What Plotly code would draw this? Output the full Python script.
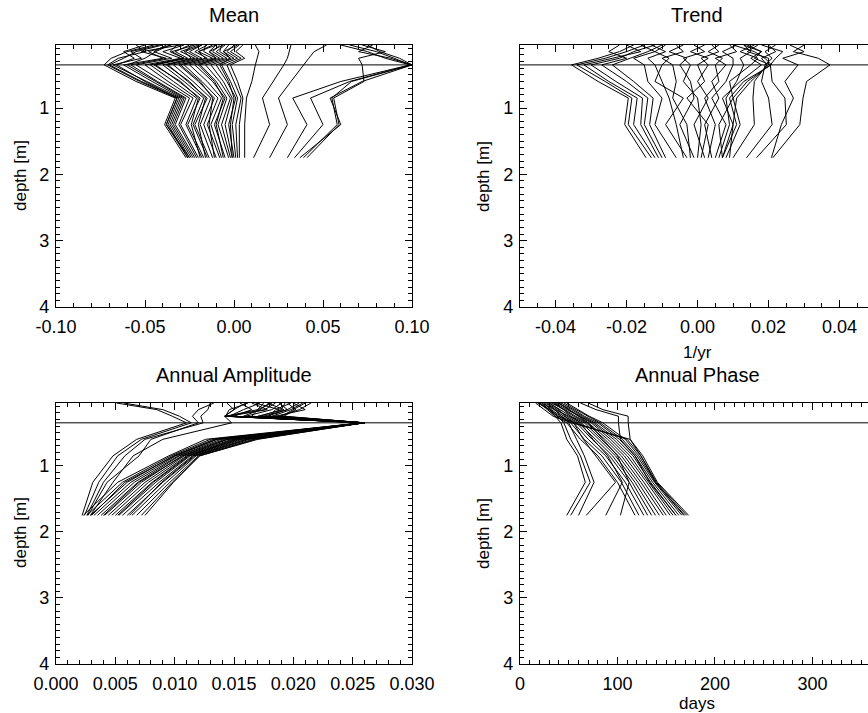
import plotly.graph_objects as go

# ---------------- data ----------------
depth = [0.05, 0.15, 0.25, 0.35, 0.6, 0.85, 1.25, 1.75]
ref_depth = 0.35

mean_profiles = [
    [-0.045, -0.060, -0.069, -0.073, -0.055, -0.033, -0.039, -0.027],
    [-0.055, -0.050, -0.065, -0.071, -0.053, -0.032, -0.038, -0.026],
    [-0.040, -0.055, -0.062, -0.070, -0.052, -0.031, -0.037, -0.026],
    [-0.042, -0.058, -0.052, -0.068, -0.049, -0.030, -0.036, -0.025],
    [-0.050, -0.062, -0.056, -0.066, -0.050, -0.032, -0.038, -0.025],
    [-0.035, -0.048, -0.040, -0.062, -0.046, -0.029, -0.035, -0.024],
    [-0.036, -0.044, -0.050, -0.060, -0.044, -0.028, -0.034, -0.023],
    [-0.030, -0.052, -0.038, -0.058, -0.043, -0.027, -0.033, -0.022],
    [-0.038, -0.045, -0.035, -0.055, -0.040, -0.025, -0.031, -0.021],
    [-0.028, -0.040, -0.030, -0.050, -0.037, -0.023, -0.030, -0.020],
    [-0.032, -0.036, -0.028, -0.047, -0.034, -0.021, -0.027, -0.018],
    [-0.022, -0.035, -0.028, -0.045, -0.030, -0.020, -0.024, -0.019],
    [-0.025, -0.033, -0.026, -0.044, -0.031, -0.019, -0.026, -0.017],
    [-0.020, -0.030, -0.022, -0.040, -0.028, -0.017, -0.023, -0.015],
    [-0.018, -0.028, -0.024, -0.038, -0.025, -0.016, -0.020, -0.016],
    [-0.024, -0.027, -0.020, -0.037, -0.026, -0.015, -0.022, -0.014],
    [-0.018, -0.025, -0.018, -0.034, -0.023, -0.013, -0.019, -0.012],
    [-0.015, -0.022, -0.015, -0.031, -0.020, -0.011, -0.017, -0.010],
    [-0.010, -0.020, -0.016, -0.030, -0.019, -0.012, -0.014, -0.011],
    [-0.012, -0.020, -0.012, -0.028, -0.018, -0.009, -0.015, -0.008],
    [-0.016, -0.017, -0.010, -0.025, -0.015, -0.007, -0.013, -0.007],
    [-0.010, -0.014, -0.008, -0.022, -0.012, -0.005, -0.011, -0.005],
    [-0.006, -0.014, -0.010, -0.020, -0.011, -0.006, -0.010, -0.006],
    [-0.008, -0.012, -0.006, -0.019, -0.010, -0.004, -0.009, -0.003],
    [-0.005, -0.010, -0.004, -0.016, -0.008, -0.002, -0.007, -0.002],
    [-0.007, -0.008, -0.002, -0.013, -0.006, -0.001, -0.005, -0.001],
    [-0.003, -0.006, 0.000, -0.010, -0.004, 0.001, -0.003, 0.000],
    [0.002, -0.006, -0.002, -0.008, -0.003, 0.000, -0.002, -0.001],
    [0.000, -0.004, 0.002, -0.007, -0.002, 0.002, -0.001, 0.001],
    [0.003, -0.002, 0.004, -0.004, 0.000, 0.004, 0.001, 0.002],
    [0.005, 0.001, 0.006, -0.002, 0.002, 0.005, 0.003, 0.003],
    [0.012, 0.014, 0.013, 0.012, 0.010, 0.007, 0.006, 0.006],
    [0.032, 0.031, 0.030, 0.028, 0.022, 0.016, 0.020, 0.011],
    [0.052, 0.045, 0.042, 0.039, 0.032, 0.025, 0.030, 0.020],
    [0.060, 0.075, 0.085, 0.099, 0.060, 0.033, 0.041, 0.030],
    [0.065, 0.080, 0.090, 0.099, 0.065, 0.043, 0.050, 0.034],
    [0.075, 0.082, 0.093, 0.100, 0.072, 0.054, 0.060, 0.037],
    [0.072, 0.085, 0.070, 0.072, 0.073, 0.056, 0.059, 0.041],
    [0.078, 0.070, 0.088, 0.100, 0.066, 0.055, 0.058, 0.039],
]

trend_profiles = [
    [-0.018, -0.022, -0.028, -0.0355, -0.028, -0.0195, -0.0205, -0.0145],
    [-0.015, -0.020, -0.026, -0.034, -0.026, -0.0185, -0.0195, -0.0130],
    [-0.020, -0.016, -0.024, -0.032, -0.025, -0.0170, -0.0180, -0.0120],
    [-0.012, -0.018, -0.022, -0.030, -0.023, -0.0155, -0.0160, -0.0110],
    [-0.022, -0.025, -0.020, -0.027, -0.020, -0.0140, -0.0150, -0.0100],
    [-0.010, -0.014, -0.019, -0.024, -0.018, -0.0125, -0.0135, -0.0090],
    [-0.016, -0.012, -0.018, -0.015, -0.014, -0.010, -0.012, -0.006],
    [-0.013, -0.009, -0.014, -0.012, -0.010, -0.008, -0.006, -0.004],
    [-0.009, -0.012, -0.008, -0.010, -0.012, -0.004, -0.009, -0.003],
    [-0.006, -0.004, -0.010, -0.007, -0.006, -0.007, -0.003, -0.002],
    [-0.004, -0.008, -0.003, -0.005, -0.002, -0.001, -0.005, -0.001],
    [-0.001, 0.002, -0.004, -0.002, -0.004, 0.000, 0.001, 0.000],
    [0.002, -0.002, 0.003, 0.000, 0.002, -0.003, 0.003, 0.001],
    [0.004, 0.006, 0.001, 0.003, 0.000, 0.003, -0.001, 0.002],
    [0.006, 0.003, 0.007, 0.005, 0.006, 0.002, 0.005, 0.003],
    [0.009, 0.011, 0.005, 0.008, 0.004, 0.006, 0.002, 0.004],
    [0.011, 0.007, 0.010, 0.010, 0.008, 0.004, 0.008, 0.005],
    [0.013, 0.015, 0.012, 0.013, 0.011, 0.008, 0.009, 0.006],
    [0.016, 0.012, 0.017, 0.015, 0.009, 0.010, 0.006, 0.007],
    [0.014, 0.018, 0.015, 0.018, 0.012, 0.007, 0.010, 0.007],
    [0.010, 0.016, 0.019, 0.0208, 0.013, 0.009, 0.011, 0.007],
    [0.013, 0.018, 0.016, 0.0205, 0.014, 0.010, 0.012, 0.008],
    [0.017, 0.014, 0.020, 0.020, 0.015, 0.011, 0.010, 0.009],
    [0.020, 0.022, 0.018, 0.0195, 0.016, 0.0156, 0.016, 0.010],
    [0.022, 0.019, 0.021, 0.019, 0.018, 0.020, 0.021, 0.0138],
    [0.018, 0.024, 0.022, 0.0205, 0.021, 0.0246, 0.025, 0.0166],
    [0.026, 0.030, 0.024, 0.0283, 0.0246, 0.027, 0.0236, 0.0208],
    [0.030, 0.027, 0.034, 0.0373, 0.0307, 0.0297, 0.0288, 0.0212],
]

amp_profiles = [
    [0.0160, 0.0150, 0.0142, 0.0258, 0.0126, 0.0095, 0.0052, 0.0023],
    [0.0175, 0.0170, 0.0143, 0.0259, 0.0130, 0.0097, 0.0056, 0.0026],
    [0.0190, 0.0182, 0.0160, 0.0260, 0.0133, 0.0099, 0.0060, 0.0029],
    [0.0205, 0.0195, 0.0175, 0.0259, 0.0136, 0.0101, 0.0063, 0.0032],
    [0.0168, 0.0188, 0.0185, 0.0260, 0.0139, 0.0103, 0.0066, 0.0035],
    [0.0185, 0.0176, 0.0144, 0.0258, 0.0142, 0.0104, 0.0069, 0.0038],
    [0.0210, 0.0200, 0.0190, 0.0260, 0.0145, 0.0106, 0.0072, 0.0041],
    [0.0155, 0.0165, 0.0150, 0.0259, 0.0148, 0.0108, 0.0075, 0.0044],
    [0.0178, 0.0192, 0.0170, 0.0260, 0.0150, 0.0110, 0.0078, 0.0047],
    [0.0198, 0.0185, 0.0180, 0.0258, 0.0152, 0.0111, 0.0081, 0.0050],
    [0.0215, 0.0205, 0.0188, 0.0260, 0.0155, 0.0113, 0.0084, 0.0053],
    [0.0172, 0.0158, 0.0146, 0.0259, 0.0157, 0.0115, 0.0087, 0.0056],
    [0.0188, 0.0195, 0.0178, 0.0260, 0.0160, 0.0117, 0.0090, 0.0060],
    [0.0200, 0.0210, 0.0185, 0.0259, 0.0163, 0.0118, 0.0093, 0.0064],
    [0.0165, 0.0178, 0.0145, 0.0258, 0.0166, 0.0120, 0.0096, 0.0068],
    [0.0182, 0.0170, 0.0165, 0.0260, 0.0168, 0.0121, 0.0098, 0.0072],
    [0.0195, 0.0202, 0.0192, 0.0259, 0.0170, 0.0121, 0.0099, 0.0075],
    [0.0162, 0.0146, 0.0143, 0.0257, 0.0135, 0.0100, 0.0058, 0.0030],
    [0.0180, 0.0172, 0.0158, 0.0258, 0.0144, 0.0107, 0.0070, 0.0040],
    [0.0193, 0.0190, 0.0172, 0.0259, 0.0153, 0.0112, 0.0082, 0.0052],
    [0.0208, 0.0198, 0.0182, 0.0259, 0.0161, 0.0116, 0.0089, 0.0062],
    [0.0051, 0.0085, 0.0098, 0.0110, 0.0068, 0.0048, 0.0031, 0.0022],
    [0.0057, 0.0090, 0.0104, 0.0114, 0.0072, 0.0052, 0.0036, 0.0024],
    [0.0130, 0.0128, 0.0122, 0.0124, 0.0075, 0.0058, 0.0040, 0.0026],
    [0.0144, 0.0150, 0.0142, 0.0148, 0.0090, 0.0065, 0.0048, 0.0029],
    [0.0133, 0.0120, 0.0115, 0.0120, 0.0080, 0.0070, 0.0043, 0.0027],
]

phase_profiles = [
    [20, 28, 36, 48, 62, 80, 100, 118],
    [18, 30, 40, 52, 66, 84, 104, 122],
    [24, 32, 42, 55, 70, 88, 108, 127],
    [22, 35, 45, 58, 74, 92, 112, 131],
    [28, 38, 48, 60, 78, 95, 115, 135],
    [26, 36, 50, 63, 81, 98, 118, 139],
    [30, 41, 52, 66, 84, 101, 121, 143],
    [34, 44, 55, 68, 87, 104, 124, 147],
    [32, 46, 57, 70, 90, 107, 127, 150],
    [36, 48, 60, 73, 93, 110, 130, 154],
    [40, 50, 62, 75, 96, 113, 132, 157],
    [38, 53, 64, 77, 99, 116, 134, 160],
    [42, 55, 66, 80, 102, 118, 136, 163],
    [45, 57, 69, 82, 105, 120, 138, 166],
    [48, 60, 71, 85, 108, 122, 139, 169],
    [16, 25, 34, 53, 113, 126, 141, 173],
    [20, 30, 38, 56, 110, 124, 140, 171],
    [22, 30, 36, 42, 48, 59, 67, 48],
    [25, 32, 38, 45, 52, 62, 72, 52],
    [28, 35, 42, 50, 58, 66, 76, 60],
    [30, 40, 46, 55, 65, 78, 98, 68],
    [35, 45, 52, 62, 75, 90, 105, 88],
    [40, 50, 60, 70, 85, 100, 112, 103],
    [62, 78, 101, 101, 103, 118, 133, 160],
    [70, 85, 111, 111, 113, 124, 139, 168],
]

panel_titles = ["Mean", "Trend", "Annual Amplitude", "Annual Phase"]
x_titles = ["", "1/yr", "", "days"]
y_title = "depth [m]"

mean_ticks = [-0.10, -0.05, 0.00, 0.05, 0.10]
mean_ticklabels = ["-0.10", "-0.05", "0.00", "0.05", "0.10"]
trend_ticks = [-0.04, -0.02, 0.00, 0.02, 0.04]
trend_ticklabels = ["-0.04", "-0.02", "0.00", "0.02", "0.04"]
amp_ticks = [0.000, 0.005, 0.010, 0.015, 0.020, 0.025, 0.030]
amp_ticklabels = ["0.000", "0.005", "0.010", "0.015", "0.020", "0.025", "0.030"]
phase_ticks = [0, 100, 200, 300]
phase_ticklabels = ["0", "100", "200", "300"]
depth_ticks = [1, 2, 3, 4]
depth_ticklabels = ["1", "2", "3", "4"]

# ---------------- figure ----------------
W, H = 868, 713
FONT = "Liberation Sans, Arial, Helvetica, sans-serif"

fig = go.Figure()

panels = [
    (mean_profiles, "x", "y"),
    (trend_profiles, "x2", "y2"),
    (amp_profiles, "x3", "y3"),
    (phase_profiles, "x4", "y4"),
]
for profiles, xa, ya in panels:
    for prof in profiles:
        fig.add_trace(go.Scatter(
            x=prof, y=depth, mode="lines",
            line=dict(color="black", width=1),
            xaxis=xa, yaxis=ya, showlegend=False, hoverinfo="skip",
        ))

def xd(a, b):
    return [a / W, b / W]

def yd(top, bottom):
    return [1 - bottom / H, 1 - top / H]

tickfont = dict(family=FONT, size=18, color="black")

def xaxis_cfg(domain, rng, tv, tt, minor_dtick, anchor):
    return dict(
        domain=domain, range=rng, anchor=anchor, automargin=False,
        tickmode="array", tickvals=tv, ticktext=tt,
        ticks="inside", ticklen=7, tickwidth=1, tickcolor="black",
        ticklabelstandoff=3,
        showline=True, linecolor="black", linewidth=1.3, mirror="allticks",
        showgrid=False, zeroline=False, tickfont=tickfont,
        minor=dict(ticks="inside", ticklen=3.5, tickwidth=1, tickcolor="black",
                   tickmode="linear", tick0=0, dtick=minor_dtick, showgrid=False),
        fixedrange=True,
    )

def yaxis_cfg(domain, anchor, mirror):
    return dict(
        domain=domain, range=[4.0, 0.05], anchor=anchor, automargin=False,
        tickmode="array", tickvals=depth_ticks, ticktext=depth_ticklabels,
        ticks="inside", ticklen=7, tickwidth=1, tickcolor="black",
        ticklabelstandoff=2,
        showline=True, linecolor="black", linewidth=1.3, mirror=mirror,
        showgrid=False, zeroline=False, tickfont=tickfont,
        minor=dict(ticks="inside", ticklen=3.5, tickwidth=1, tickcolor="black",
                   tickmode="linear", tick0=0, dtick=0.1, showgrid=False),
        fixedrange=True,
    )

top_y = yd(45, 307)
bot_y = yd(403, 664)
left_x = xd(56, 412)
right_x = xd(520, 868)

fig.update_layout(
    width=W, height=H, autosize=False,
    margin=dict(l=0, r=0, t=0, b=0, pad=0, autoexpand=False),
    paper_bgcolor="white", plot_bgcolor="white",
    font=dict(family=FONT, color="black"),
    xaxis=xaxis_cfg(left_x, [-0.1, 0.1], mean_ticks, mean_ticklabels, 0.01, "y"),
    yaxis=yaxis_cfg(top_y, "x", "allticks"),
    xaxis2=xaxis_cfg(right_x, [-0.05, 0.048], trend_ticks, trend_ticklabels, 0.005, "y2"),
    yaxis2=yaxis_cfg(top_y, "x2", False),
    xaxis3=xaxis_cfg(left_x, [0.0, 0.03], amp_ticks, amp_ticklabels, 0.001, "y3"),
    yaxis3=yaxis_cfg(bot_y, "x3", "allticks"),
    xaxis4=xaxis_cfg(right_x, [0, 357], phase_ticks, phase_ticklabels, 10, "y4"),
    yaxis4=yaxis_cfg(bot_y, "x4", False),
)

for xa, ya in [("x", "y"), ("x2", "y2"), ("x3", "y3"), ("x4", "y4")]:
    fig.add_shape(type="line", xref=f"{xa} domain", x0=0, x1=1,
                  yref=ya, y0=ref_depth, y1=ref_depth,
                  line=dict(color="black", width=1))

title_pos = [(234, 15), (697, 15), (234, 375), (697, 375)]
for t, (px, py) in zip(panel_titles, title_pos):
    fig.add_annotation(text=t, x=px / W, y=1 - py / H, xref="paper", yref="paper",
                       showarrow=False, xanchor="center", yanchor="middle",
                       font=dict(family=FONT, size=20, color="black"))

xlab_pos = [None, (697, 352), None, (697, 703)]
for t, pos in zip(x_titles, xlab_pos):
    if pos and t:
        fig.add_annotation(text=t, x=pos[0] / W, y=1 - pos[1] / H, xref="paper", yref="paper",
                           showarrow=False, xanchor="center", yanchor="middle",
                           font=dict(family=FONT, size=17, color="black"))

for px, py in [(20, 176), (483, 176), (20, 533), (483, 533)]:
    fig.add_annotation(text=y_title, x=px / W, y=1 - py / H, xref="paper", yref="paper",
                       showarrow=False, xanchor="center", yanchor="middle", textangle=-90,
                       font=dict(family=FONT, size=17, color="black"))

fig.write_html("out.html", config={"displayModeBar": False},
               post_script="document.body.style.margin='0';document.body.style.overflow='hidden';")
